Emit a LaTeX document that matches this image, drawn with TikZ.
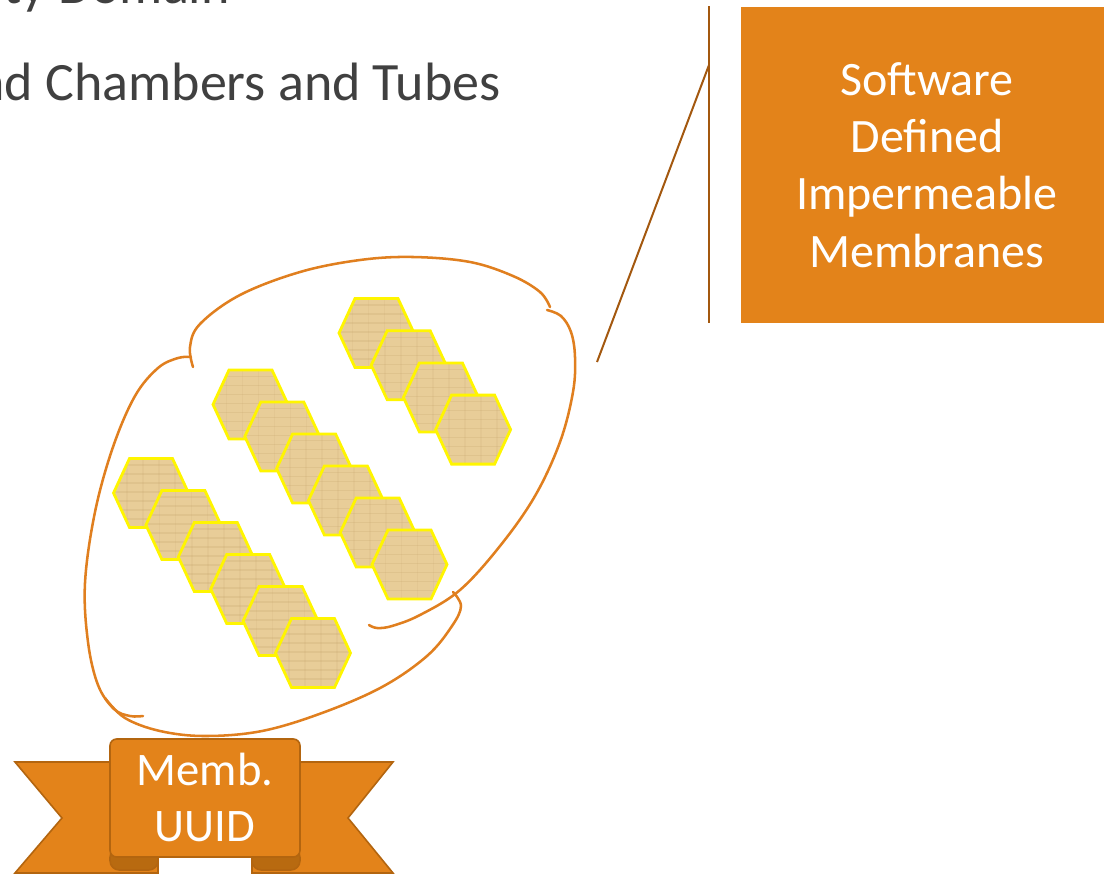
\documentclass[tikz,border=0pt]{standalone}
\usepackage{fontspec}
\setmainfont{Carlito}
\definecolor{orangefill}{HTML}{E3831A}
\definecolor{orangeline}{HTML}{B3650F}
\definecolor{folddark}{HTML}{B86A10}
\definecolor{membrane}{HTML}{E07F1F}
\definecolor{callout}{HTML}{A3580F}
\definecolor{cellfill}{HTML}{E8CD98}
\definecolor{cellgrain}{HTML}{B89A60}
\definecolor{cellline}{HTML}{FFF500}
\definecolor{titlegray}{HTML}{404040}
\tikzset{
  title/.style={inner sep=0pt, text=titlegray, font=\fontsize{40.5}{48}\selectfont},
  labelbox/.style={fill=orangefill, draw=none, text=white, align=center,
    minimum width=279pt, minimum height=237pt, inner sep=0pt,
    font=\fontsize{36}{43}\selectfont},
  ribbontext/.style={text=white, align=center, inner sep=0pt,
    font=\fontsize{35}{42}\selectfont},
  wing/.style={fill=orangefill, draw=orangeline, line width=1.2pt, line join=miter},
  fold/.style={fill=folddark, draw=orangeline, line width=1.2pt},
  panel/.style={fill=orangefill, draw=orangeline, line width=1.2pt},
  membrane line/.style={draw=membrane, line width=1.9pt, line cap=round},
  callout line/.style={draw=callout, line width=1.5pt},
  cell/.style={draw=cellline, line width=2.1pt, line join=miter},
  hexcell/.pic={
    \begin{scope}
      \clip (-37.5,0) -- (-21.5,-34.5) -- (21.5,-34.5) -- (37.5,0)
        -- (21.5,34.5) -- (-21.5,34.5) -- cycle;
      \fill[cellfill] (-40,-40) rectangle (40,40);
      % faint woven grain
      \foreach \g in {-28,-19,-10,-1,8,17,26}
        \draw[cellgrain, opacity=0.18, line width=0.9pt] (-40,\g) -- (40,\g);
      \foreach \g in {-24,-8,8,24}
        \draw[cellgrain, opacity=0.10, line width=1.2pt] (\g,-40) -- (\g,40);
    \end{scope}
    \path[cell] (-37.5,0) -- (-21.5,-34.5) -- (21.5,-34.5) -- (37.5,0)
      -- (21.5,34.5) -- (-21.5,34.5) -- cycle;
  }
}
\begin{document}
\begin{tikzpicture}[x=0.75pt, y=-0.75pt]
\useasboundingbox (0,0) rectangle (1104,875);
\clip (0,0) rectangle (1104,875);

% slide text running off the left edge
\node[title, anchor=base east] (line1) at (230,3) {Security Domain};
\node[title, anchor=base east] (line2) at (501,100) {and Chambers and Tubes};

% label box and its callout bracket
\node[labelbox] (sdim) at (927,165) {Software\\Defined\\Impermeable\\Membranes};
\coordinate (tip) at (597,362);
\coordinate (elbow) at (709,65);
\coordinate (bartop) at (709,6);
\coordinate (barbot) at (709,323);
\draw[callout line] (tip) -- (elbow);
\draw[callout line] (bartop) -- (barbot);

% membrane outline, drawn as four overlapping strokes
\draw[membrane line] plot[smooth, tension=0.6] coordinates {
  (193,367) (190,347) (200,324) (240,295) (300,272) (360,260) (413,257)
  (470,262) (513,276) (540,292) (550,307)};
\draw[membrane line] plot[smooth, tension=0.6] coordinates {
  (191,357) (178,358) (158,368) (135,396) (113,447) (95,512) (85,583)
  (88,642) (98,685) (114,709) (130,716) (143,716)};
\draw[membrane line] plot[smooth, tension=0.6] coordinates {
  (105,698) (125,718) (160,731) (205,736) (262,731) (322,713) (382,687)
  (427,656) (452,626) (461,606) (453,592)};
\draw[membrane line] plot[smooth, tension=0.6] coordinates {
  (547,310) (561,316) (571,332) (575,357) (573,392) (560,442) (535,496)
  (500,546) (460,590) (420,615) (392,626) (377,628) (369,625)};

% cells, three diagonal rows
\foreach \i in {0,...,5}
  \pic at ({151+32.4*\i},{493+32*\i}) {hexcell};
\foreach \i in {0,...,5}
  \pic at ({250.5+31.8*\i},{404.5+32*\i}) {hexcell};
\foreach \i in {0,...,3}
  \pic at ({376.5+32.2*\i},{333+32.2*\i}) {hexcell};

% ribbon tag
\path[wing] (15,762) -- (158,762) -- (158,873) -- (15,873) -- (62,818) -- cycle;
\path[wing] (393,762) -- (252,762) -- (252,873) -- (393,873) -- (348,818) -- cycle;
\path[fold, rounded corners=7pt] (110,848) rectangle (158,870);
\path[fold, rounded corners=7pt] (252,848) rectangle (300,870);
\path[panel, rounded corners=5pt] (110,857) -- (110,739) -- (300,739) -- (300,857) -- cycle;
\node[ribbontext] (tag) at (205,797) {Memb.\\UUID};
\end{tikzpicture}
\end{document}
